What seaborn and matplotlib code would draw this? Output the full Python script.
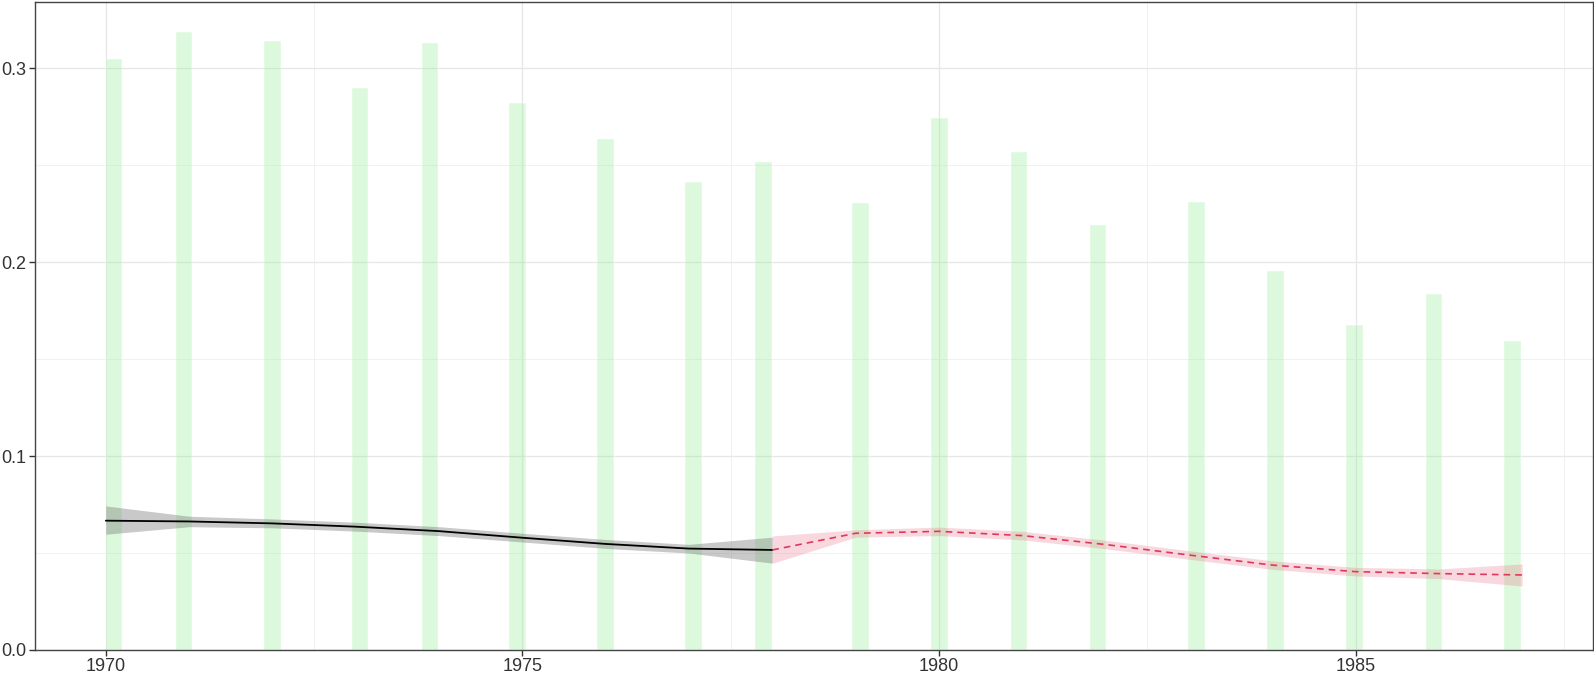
import numpy as np
import pandas as pd
import matplotlib
matplotlib.use("Agg")
import matplotlib.pyplot as plt
from matplotlib.ticker import FixedLocator
import seaborn as sns

# bars (x positions, slightly off the whole years)
bar_x = [1970.10, 1970.94, 1972.00, 1973.05, 1973.89, 1974.94, 1976.00, 1977.05, 1977.89,
         1979.06, 1980.01, 1980.96, 1981.91, 1983.09, 1984.04, 1984.99, 1985.94, 1986.88]
bar_h = [0.3047, 0.3188, 0.3141, 0.2900, 0.3130, 0.2820, 0.2638, 0.2412, 0.2517,
         0.2307, 0.2743, 0.2570, 0.2192, 0.2313, 0.1956, 0.1678, 0.1835, 0.1594]

# black smooth 1970-1978
yrs_a = [1970, 1971, 1972, 1973, 1974, 1975, 1976, 1977, 1978]
fit_a = [0.0667, 0.0663, 0.0653, 0.0636, 0.0613, 0.0579, 0.0547, 0.0523, 0.0516]
hi_a = [0.0743, 0.0690, 0.0676, 0.0659, 0.0636, 0.0602, 0.0570, 0.0545, 0.0582]
lo_a = [0.0597, 0.0636, 0.0630, 0.0613, 0.0590, 0.0557, 0.0524, 0.0500, 0.0448]

# red dashed smooth 1978-1987
yrs_b = [1978, 1979, 1980, 1981, 1982, 1983, 1984, 1985, 1986, 1987]
fit_b = [0.0516, 0.0602, 0.0612, 0.0590, 0.0544, 0.0490, 0.0438, 0.0404, 0.0394, 0.0387]
hi_b = [0.0588, 0.0620, 0.0634, 0.0612, 0.0566, 0.0512, 0.0460, 0.0426, 0.0418, 0.0444]
lo_b = [0.0447, 0.0582, 0.0590, 0.0568, 0.0522, 0.0468, 0.0416, 0.0382, 0.0368, 0.0330]

sns.set_theme(style="white")
plt.rcParams["font.family"] = ["Liberation Sans", "DejaVu Sans"]

fig = plt.figure(figsize=(15.94, 6.74), dpi=100)
ax = fig.add_axes([35 / 1594, 24 / 674, 1558 / 1594, 648 / 674])

# grid
ax.xaxis.set_major_locator(FixedLocator([1970, 1975, 1980, 1985]))
ax.xaxis.set_minor_locator(FixedLocator([1972.5, 1977.5, 1982.5, 1987.5]))
ax.yaxis.set_major_locator(FixedLocator([0.0, 0.1, 0.2, 0.3]))
ax.yaxis.set_minor_locator(FixedLocator([0.05, 0.15, 0.25]))
ax.grid(which="major", color="#E6E6E6", lw=0.9, zorder=0)
ax.grid(which="minor", color="#EFEFEF", lw=0.6, zorder=0)
ax.set_axisbelow(True)

ax.bar(bar_x, bar_h, width=0.2, color="#90EE90", alpha=0.3,
       edgecolor="white", linewidth=1.2, zorder=1)

ax.fill_between(yrs_a, lo_a, hi_a, color="#666666", alpha=0.35, lw=0, zorder=2)
ax.fill_between(yrs_b, lo_b, hi_b, color="#E8637D", alpha=0.25, lw=0, zorder=2)

da = pd.DataFrame({"year": yrs_a, "fit": fit_a})
db = pd.DataFrame({"year": yrs_b, "fit": fit_b})
sns.lineplot(data=da, x="year", y="fit", color="black", lw=1.3, ax=ax, zorder=3)
sns.lineplot(data=db, x="year", y="fit", color="#DC3A5A", lw=1.2, ax=ax, zorder=3)
ax.lines[-1].set_dashes([4, 3])

ax.set_xlim(1969.15, 1987.85)
ax.set_ylim(0, 0.3342)
ax.set_xticklabels(["1970", "1975", "1980", "1985"])
ax.set_yticklabels(["0.0", "0.1", "0.2", "0.3"])
ax.set_xlabel("")
ax.set_ylabel("")

ax.tick_params(which="major", direction="out", length=4, width=1, color="#333333",
               labelsize=13, labelcolor="#333333", pad=2, bottom=True, left=True)
ax.tick_params(which="minor", length=0)
for s in ax.spines.values():
    s.set_color("#444444")
    s.set_linewidth(1.0)

fig.savefig("out.png", dpi=100)
